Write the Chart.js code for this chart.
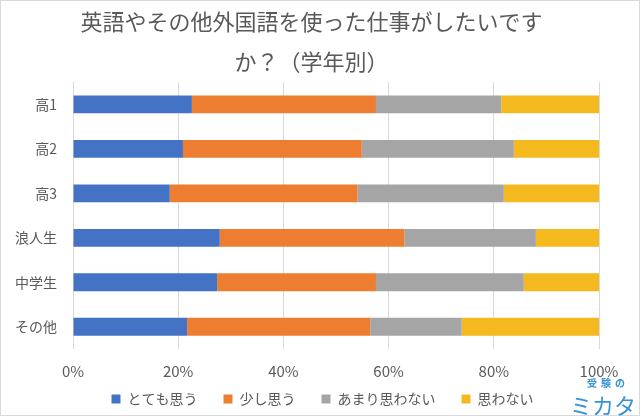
<!DOCTYPE html>
<html>
<head>
<meta charset="utf-8">
<script src="https://cdn.jsdelivr.net/npm/chart.js@4.4.1/dist/chart.umd.min.js"></script>
<style>
  html, body { margin: 0; padding: 0; background: #fff; }
  #wrap { position: relative; width: 640px; height: 416px; }
  #frame { position: absolute; left: 0; top: 0; width: 638px; height: 414px; border: 1px solid #d9d9d9; pointer-events: none; }
  .logo { position: absolute; color: #3593d8; font-family: "Noto Sans CJK JP", sans-serif; font-weight: bold; line-height: 1; }
</style>
</head>
<body>
<div id="wrap">
  <canvas id="chart" width="640" height="416"></canvas>
  <div id="frame"></div>
  <div class="logo" style="left:587px; top:378px; font-size:10px; letter-spacing:4px;">受験の</div>
  <div class="logo" style="left:570px; top:393px; font-size:22px; font-weight:normal;">ミカタ</div>
</div>
<script>
// data (%)
const categories = ["高1", "高2", "高3", "浪人生", "中学生", "その他"];
const seriesNames = ["とても思う", "少し思う", "あまり思わない", "思わない"];
const veryMuch = [22.6, 20.9, 18.4, 27.9, 27.4, 21.7];
const aLittle = [35.0, 34.0, 35.7, 35.1, 30.2, 34.8];
const notMuch = [23.8, 28.9, 27.8, 25.0, 28.1, 17.4];
const notAtAll = [18.6, 16.2, 18.1, 12.0, 14.3, 26.1];
const xTicks = [0, 20, 40, 60, 80, 100];

const colors = ["#4472c4", "#ed7d31", "#a5a5a5", "#f4b91f"];
const values = [veryMuch, aLittle, notMuch, notAtAll];
const font = "'Noto Sans CJK JP', 'Noto Sans', sans-serif";

// title and legend sit a little right of the plot centre in the original
const nudge = {
    id: "nudge",
    afterLayout(chart) {
        chart.titleBlock.left += 7;
        chart.titleBlock.right += 7;
        chart.legend.left += 18;
        chart.legend.right += 18;
    }
};

const ctx = document.getElementById("chart").getContext("2d");

new Chart(ctx, {
    type: "bar",
    data: {
        labels: categories,
        datasets: seriesNames.map((name, i) => ({
            label: name,
            data: values[i],
            backgroundColor: colors[i],
            borderWidth: 0,
            barPercentage: 0.4,
            categoryPercentage: 1
        }))
    },
    plugins: [nudge],
    options: {
        indexAxis: "y",
        responsive: false,
        animation: false,
        layout: { padding: { left: 10, right: 41, top: 0, bottom: 0 } },
        plugins: {
            title: {
                display: true,
                text: ["英語やその他外国語を使った仕事がしたいです", "か？（学年別）"],
                color: "#595959",
                font: { family: font, size: 22, weight: "normal", lineHeight: 1.82 },
                padding: { top: 2, bottom: 0 }
            },
            legend: {
                position: "bottom",
                labels: {
                    color: "#595959",
                    font: { family: font, size: 14 },
                    boxWidth: 9,
                    boxHeight: 9,
                    padding: 26
                }
            },
            tooltip: { enabled: false }
        },
        scales: {
            x: {
                stacked: true,
                min: 0,
                max: 100,
                afterBuildTicks: s => { s.ticks = xTicks.map(v => ({ value: v })); },
                afterFit: s => {
                    s.height = 17;
                    // tick labels hang into the legend band, don't clip them
                    s._computeLabelArea = () => undefined;
                },
                ticks: {
                    color: "#595959",
                    font: { family: font, size: 15 },
                    padding: 13,
                    callback: v => v + "%"
                },
                grid: { color: "#d9d9d9", drawTicks: false },
                border: { display: false }
            },
            y: {
                stacked: true,
                afterFit: s => { s.width = 63; },
                ticks: {
                    color: "#595959",
                    font: { family: font, size: 14 },
                    padding: 16
                },
                grid: { display: false, drawTicks: false },
                border: { display: false }
            }
        }
    }
});
</script>
</body>
</html>
